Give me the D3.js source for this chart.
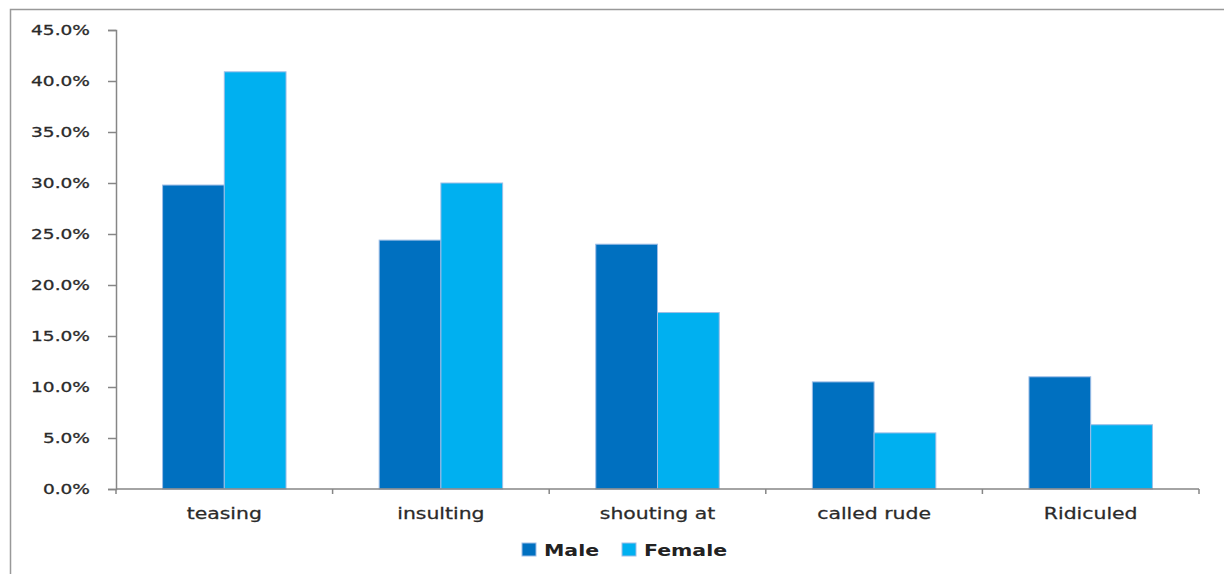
<!DOCTYPE html>
<html><head><meta charset="utf-8">
<script src="https://cdn.jsdelivr.net/npm/d3@7"></script>
<style>body{margin:0;background:#fff}svg{display:block}text{font-family:"DejaVu Sans",sans-serif;fill:#2a2a2a}</style>
</head><body><svg id="c" width="1224" height="574"></svg>
<script>
const categories = ["teasing","insulting","shouting at","called rude","Ridiculed"];
const series = ["Male","Female"];
const maleValues = [0.298,0.244,0.240,0.105,0.110];
const femaleValues = [0.409,0.300,0.173,0.055,0.063];
const yTicks = [0,0.05,0.10,0.15,0.20,0.25,0.30,0.35,0.40,0.45];
const colors = ["#0070C0","#00B0F0"];

(function(){
const svg = d3.select("#c");
// outer frame (left and top edges)
svg.append("path").attr("d","M10.5,574 V9.5 H1224").attr("fill","none").attr("stroke","#999").attr("stroke-width",1.5);

const pLeft=116,pRight=1199,pTop=30,pBottom=489;
const y = d3.scaleLinear().domain([0,0.45]).range([pBottom,pTop]);
const x0 = d3.scaleBand().domain(categories).range([pLeft,pRight]).paddingInner(0.43).paddingOuter(0.215);
const x1 = d3.scaleBand().domain(series).range([0,x0.bandwidth()]);
const vals = [maleValues,femaleValues];

// bars
categories.forEach((c,i)=>{
  series.forEach((s,j)=>{
    svg.append("rect")
      .attr("x",x0(c)+x1(s)).attr("width",x1.bandwidth())
      .attr("y",y(vals[j][i])).attr("height",pBottom-y(vals[j][i]))
      .attr("fill",colors[j]).attr("stroke","#9DBDE6").attr("stroke-width",1);
  });
});

// y axis
const yAxis = svg.append("g").attr("transform",`translate(${pLeft},0)`)
  .call(d3.axisLeft(y).tickValues(yTicks).tickSize(8).tickPadding(0).tickFormat(""));
yAxis.select(".domain").attr("stroke","#868686").attr("stroke-width",1.5);
yAxis.selectAll(".tick line").attr("stroke","#868686").attr("stroke-width",1.5);
yTicks.forEach(t=>{
  svg.append("text").attr("text-anchor","end")
    .attr("transform",`translate(90,${y(t)+5}) scale(1.28,1)`)
    .style("font-size","14.5px").style("stroke","#2a2a2a").style("stroke-width","0.3px")
    .text(d3.format(".1%")(t));
});

// x axis
const bounds = categories.map(c=>x0(c)-x0.step()*x0.paddingInner()/2).concat([pRight]);
svg.append("line").attr("x1",pLeft).attr("x2",pRight).attr("y1",pBottom).attr("y2",pBottom).attr("stroke","#868686").attr("stroke-width",1.5);
bounds.forEach(b=>{
  svg.append("line").attr("x1",b).attr("x2",b).attr("y1",pBottom).attr("y2",pBottom+5).attr("stroke","#868686").attr("stroke-width",1.5);
});
categories.forEach(c=>{
  svg.append("text").attr("text-anchor","middle")
    .attr("transform",`translate(${x0(c)+x0.bandwidth()/2},${519}) scale(1.36,1)`)
    .style("font-size","15px").style("stroke","#2a2a2a").style("stroke-width","0.25px").text(c);
});

// legend
const legX=[522,622];
series.forEach((s,j)=>{
  svg.append("rect").attr("x",legX[j]).attr("y",543).attr("width",14).attr("height",13).attr("fill",colors[j]).attr("stroke","#9DBDE6");
  svg.append("text").attr("transform",`translate(${legX[j]+22},556) scale(1.28,1)`)
    .style("font-size","16px").style("font-weight","bold").style("fill","#222").text(s);
});
})();
</script></body></html>
